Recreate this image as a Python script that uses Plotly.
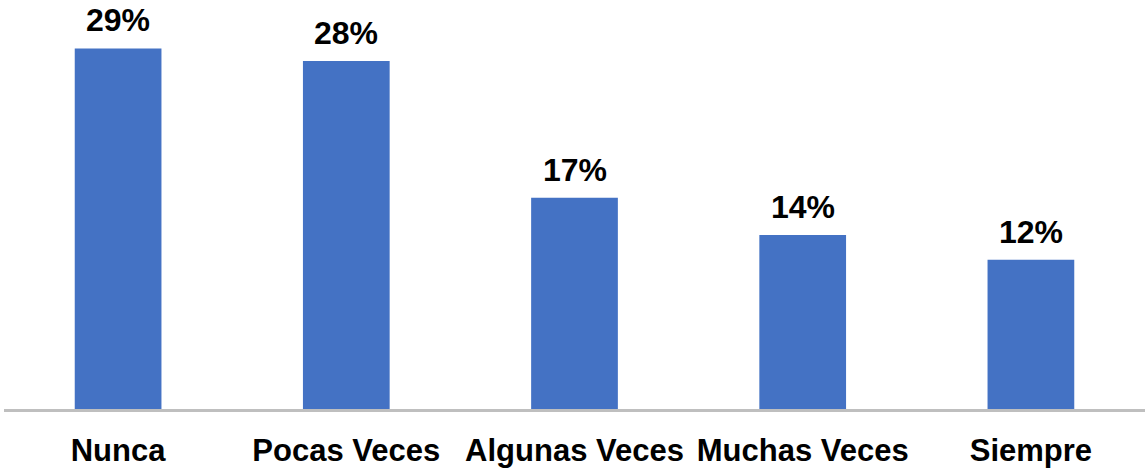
import plotly.graph_objects as go

categories = ["Nunca", "Pocas Veces", "Algunas Veces", "Muchas Veces", "Siempre"]
values = [29, 28, 17, 14, 12]
labels = ["29%", "28%", "17%", "14%", "12%"]

BAR_COLOR = "#4472C4"
FONT = "Liberation Sans, Arial, sans-serif"

fig = go.Figure()
fig.add_trace(go.Bar(
    x=categories, y=values,
    marker=dict(color=BAR_COLOR, line=dict(width=0)),
    hoverinfo="skip",
))

for c, v, t in zip(categories, values, labels):
    fig.add_annotation(
        x=c, y=v, text=t, showarrow=False,
        yanchor="bottom", yshift=8,
        font=dict(family=FONT, size=32, color="#000000", weight="bold"),
    )

fig.update_layout(
    width=1145, height=468,
    margin=dict(l=4, r=0, t=0, b=57),
    paper_bgcolor="white", plot_bgcolor="white",
    showlegend=False,
    bargap=0.62,
    xaxis=dict(
        showline=True, linecolor="#BFBFBF", linewidth=3,
        showgrid=False, ticks="", ticklen=0,
        tickfont=dict(family=FONT, size=31, color="#000000", weight="bold"),
        ticklabelstandoff=12,
    ),
    yaxis=dict(
        range=[0, 32.9], visible=False, showgrid=False, zeroline=False,
    ),
)

fig.write_html(
    "out.html",
    config={"displayModeBar": False},
    post_script="document.body.style.margin='0';document.body.style.overflow='hidden';",
)
